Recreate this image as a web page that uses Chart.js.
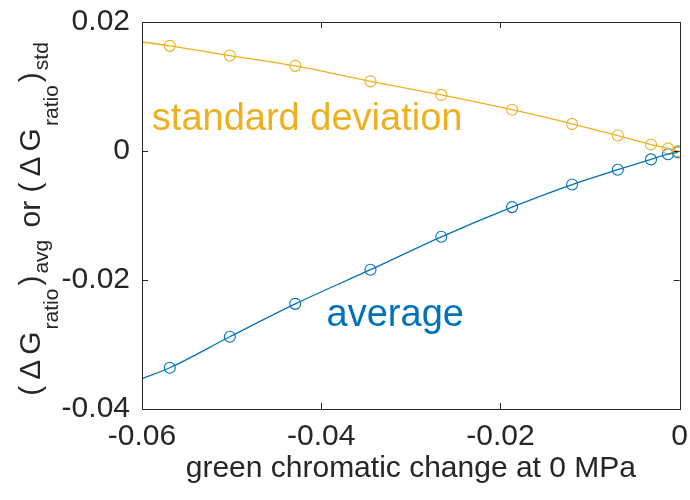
<!DOCTYPE html>
<html>
<head>
<meta charset="utf-8">
<script src="https://cdn.jsdelivr.net/npm/chart.js@4"></script>
<style>
  html, body { margin: 0; padding: 0; background: #fff; }
  #wrap { width: 690px; height: 500px; }
</style>
</head>
<body>
<div id="wrap"><canvas id="sens"></canvas></div>
<script>
// green chromatic change at 0 MPa vs ratio change (avg / std)
const xMarks  = [-0.0569, -0.0502, -0.0429, -0.0345, -0.0266, -0.0187, -0.0120, -0.0069, -0.0032, -0.0013, -0.0002];
const stdVals = [ 0.0163,  0.0148,  0.0132,  0.0108,  0.0087,  0.0064,  0.0042,  0.0024,  0.0010,  0.0004,  0.0000];
const avgVals = [-0.0336, -0.0288, -0.0237, -0.0184, -0.0133, -0.0087, -0.0052, -0.0029, -0.0013, -0.0005, -0.0002];
// fitted curves reach the left edge of the axes
const xEdge = -0.06;
const stdEdge = 0.0169;
const avgEdge = -0.0353;
const xTicks = [-0.06, -0.04, -0.02, 0];
const yTicks = [-0.04, -0.02, 0, 0.02];

const YELLOW = "#EDB120";
const BLUE = "#0072BD";
const INK = "#262626";
const FONT = "'Liberation Sans', Arial, Helvetica, sans-serif";

const pts = (xs, ys) => xs.map((x, i) => ({ x: x, y: ys[i] }));
const stdCurve = pts([xEdge, ...xMarks], [stdEdge, ...stdVals]);
const avgCurve = pts([xEdge, ...xMarks], [avgEdge, ...avgVals]);

// draws text runs with sub-scripts one after the other
function drawRuns(ctx, runs, x0, y0) {
  let w = 0;
  runs.forEach(r => { ctx.font = r.size + "px " + FONT; r.w = ctx.measureText(r.t).width; w += r.w + (r.gap || 0); });
  let x = x0 - w / 2;
  runs.forEach(r => {
    ctx.font = r.size + "px " + FONT;
    ctx.fillText(r.t, x, y0 + (r.dy || 0));
    x += r.w + (r.gap || 0);
  });
}

const axesBox = {
  id: "axesBox",
  afterDatasetsDraw(chart) {
    const { ctx, chartArea: a, scales } = chart;
    const sx = scales.x, sy = scales.y;
    ctx.save();
    ctx.strokeStyle = INK;
    ctx.lineWidth = 1;
    ctx.strokeRect(Math.round(a.left) + 0.5, Math.round(a.top) + 0.5, Math.round(a.right - a.left), Math.round(a.bottom - a.top));
    // inward ticks on all four sides
    const len = 6;
    ctx.beginPath();
    xTicks.forEach(v => {
      const px = Math.round(sx.getPixelForValue(v)) + 0.5;
      ctx.moveTo(px, a.bottom); ctx.lineTo(px, a.bottom - len);
      ctx.moveTo(px, a.top); ctx.lineTo(px, a.top + len);
    });
    yTicks.forEach(v => {
      const py = Math.round(sy.getPixelForValue(v)) + 0.5;
      ctx.moveTo(a.left, py); ctx.lineTo(a.left + len, py);
      ctx.moveTo(a.right, py); ctx.lineTo(a.right - len, py);
    });
    ctx.stroke();

    // curve labels
    ctx.textAlign = "left";
    ctx.textBaseline = "alphabetic";
    ctx.font = "38px " + FONT;
    ctx.fillStyle = YELLOW;
    ctx.fillText("standard deviation", sx.getPixelForValue(-0.0589), sy.getPixelForValue(0.0032));
    ctx.fillStyle = BLUE;
    ctx.fillText("average", sx.getPixelForValue(-0.0394), sy.getPixelForValue(-0.0271));

    // x axis title
    ctx.fillStyle = INK;
    ctx.textAlign = "center";
    ctx.font = "30px " + FONT;
    ctx.fillText("green chromatic change at 0 MPa", (a.left + a.right) / 2, 477);

    // y axis title with subscripts
    ctx.translate(40, 219);
    ctx.rotate(-Math.PI / 2);
    ctx.textAlign = "left";
    const sub = 21;
    drawRuns(ctx, [
      { t: "(", size: 30, gap: 6 },
      { t: "\u0394", size: 30, gap: 5 },
      { t: "G", size: 30, gap: 2 },
      { t: "ratio", size: sub, dy: 18, gap: 3 },
      { t: ")", size: 30, gap: 2 },
      { t: "avg", size: sub, dy: 8, gap: 4 },
      { t: " or ", size: 30 },
      { t: "(", size: 30, gap: 6 },
      { t: "\u0394", size: 30, gap: 5 },
      { t: "G", size: 30, gap: 2 },
      { t: "ratio", size: sub, dy: 18, gap: 3 },
      { t: ")", size: 30, gap: 2 },
      { t: "std", size: sub, dy: 8 }
    ], 0, 0);
    ctx.restore();
  }
};

const ctx = document.getElementById("sens");

new Chart(ctx, {
  type: "scatter",
  data: {
    datasets: [
      {
        label: "std fit",
        data: stdCurve,
        showLine: true,
        borderColor: YELLOW,
        borderWidth: 1.3,
        pointRadius: 0,
        cubicInterpolationMode: "monotone",
      },
      {
        label: "avg fit",
        data: avgCurve,
        showLine: true,
        borderColor: BLUE,
        borderWidth: 1.3,
        pointRadius: 0,
        cubicInterpolationMode: "monotone",
      },
      {
        label: "standard deviation",
        data: pts(xMarks, stdVals),
        showLine: false,
        pointRadius: 5.5,
        pointBorderWidth: 1.1,
        borderColor: YELLOW,
        backgroundColor: "rgba(0,0,0,0)",
      },
      {
        label: "average",
        data: pts(xMarks, avgVals),
        showLine: false,
        pointRadius: 5.5,
        pointBorderWidth: 1.1,
        borderColor: BLUE,
        backgroundColor: "rgba(0,0,0,0)",
      },
    ],
  },
  options: {
    responsive: true,
    maintainAspectRatio: false,
    animation: false,
    layout: { padding: { left: 0, top: 3, right: -2, bottom: 0 } },
    plugins: {
      legend: { display: false },
      tooltip: { enabled: false },
    },
    scales: {
      x: {
        type: "linear",
        min: -0.06,
        max: 0,
        afterBuildTicks: s => { s.ticks = xTicks.map(v => ({ value: v })); },
        afterFit: s => { s.height = 91; },
        grid: { display: false },
        border: { display: false },
        ticks: {
          color: INK,
          padding: 2,
          maxRotation: 0,
          font: { family: FONT, size: 30 },
          callback: v => String(v),
        },
      },
      y: {
        type: "linear",
        min: -0.04,
        max: 0.02,
        afterBuildTicks: s => { s.ticks = yTicks.map(v => ({ value: v })); },
        afterFit: s => { s.width = 142; },
        grid: { display: false },
        border: { display: false },
        ticks: {
          color: INK,
          padding: 4,
          font: { family: FONT, size: 30 },
          callback: v => String(v),
        },
      },
    },
  },
  plugins: [axesBox],
});
</script>
</body>
</html>
